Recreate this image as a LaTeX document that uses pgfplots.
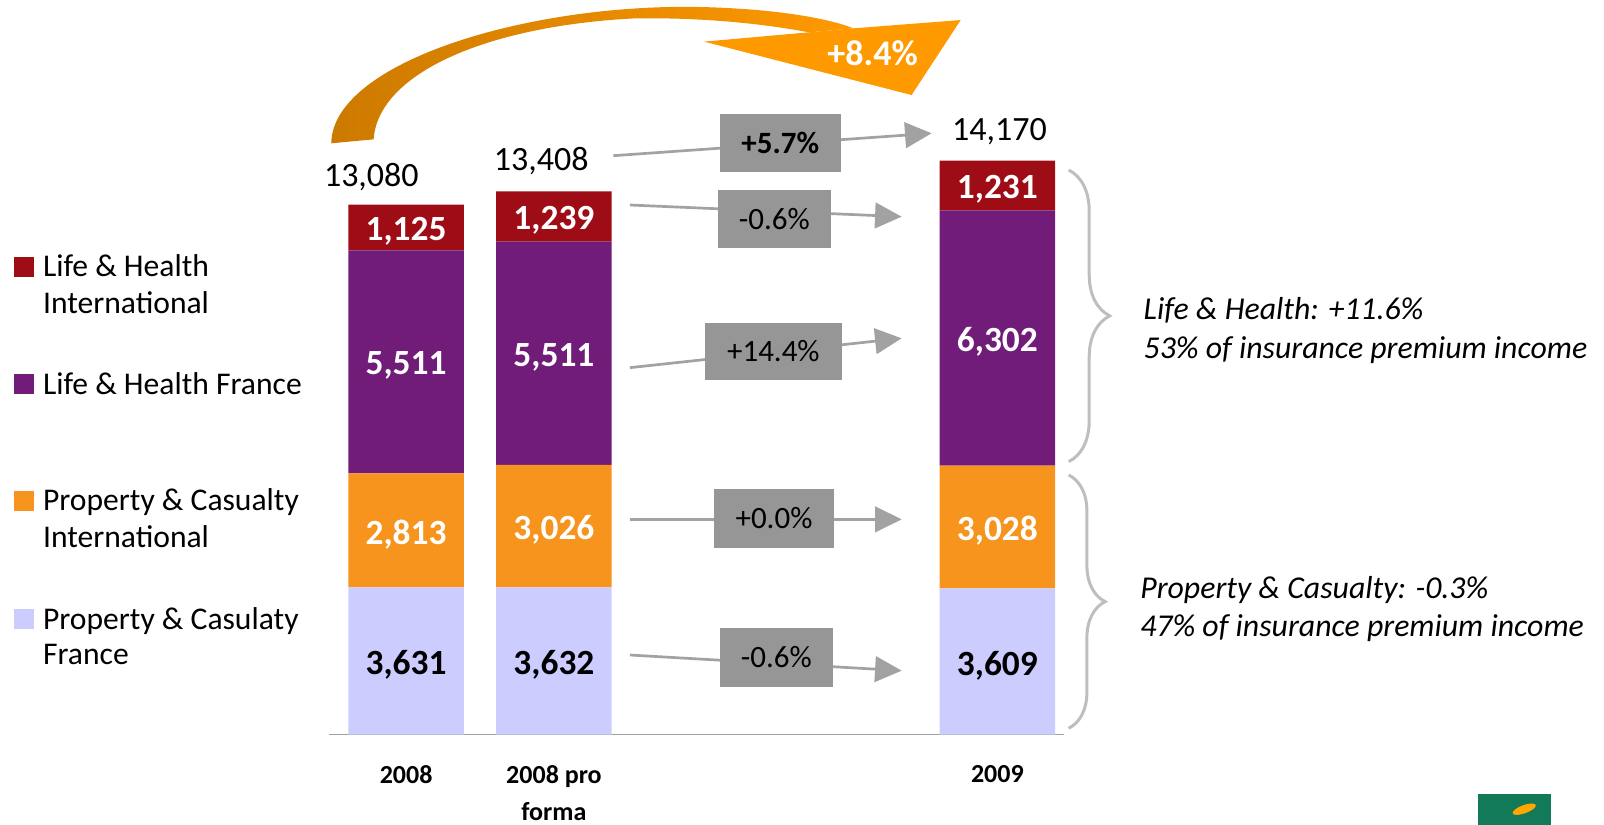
\documentclass[border=0pt]{standalone}
\usepackage{fontspec}
\setmainfont{Carlito}
\usepackage{pgfplots}
\pgfplotsset{compat=1.18}
\usetikzlibrary{arrows.meta,decorations.pathreplacing}

\definecolor{lhi}{RGB}{158,13,21}
\definecolor{lhf}{RGB}{112,28,120}
\definecolor{pci}{RGB}{247,148,29}
\definecolor{pcf}{RGB}{204,204,255}
\definecolor{boxgray}{RGB}{150,150,150}
\definecolor{arrgray}{RGB}{162,162,162}
\definecolor{bracegray}{RGB}{190,190,190}
\definecolor{orA}{RGB}{204,122,0}
\definecolor{orB}{RGB}{255,153,0}
\definecolor{logogreen}{RGB}{18,122,88}

\tikzset{
  barlbl/.style={font=\fontsize{17.7pt}{21pt}\selectfont\bfseries, yshift=-2pt},
  lg/.style={anchor=base west, inner sep=0pt, font=\fontsize{15.8pt}{18pt}\selectfont},
  rt/.style={anchor=base west, inner sep=0pt, font=\fontsize{15.9pt}{18pt}\selectfont\itshape},
  tot/.style={anchor=base, inner sep=0pt, font=\fontsize{17pt}{20pt}\selectfont},
  bx/.style={font=\fontsize{15.5pt}{18pt}\selectfont},
  garr/.style={draw=arrgray, line width=1.35pt, -{Triangle[length=13.3pt,width=12.8pt]}},
}

\begin{document}
\begin{tikzpicture}
\useasboundingbox (0pt,0pt) rectangle (802.03pt,-412.27pt);
\begin{axis}[
  at={(164.70pt,-367.26pt)}, anchor=south west,
  scale only axis, width=367.26pt, height=303.8pt,
  xmin=-0.519, xmax=4.45, ymin=0, ymax=15000,
  ybar stacked, bar width=57.8pt,
  axis x line*=bottom, axis y line=none,
  x axis line style={draw=arrgray, line width=0.8pt, -},
  xtick={0,1,4}, xticklabels={2008,2008 pro\\forma,2009},
  xtick style={draw=none}, major tick length=0pt,
  xticklabel style={font=\fontsize{13pt}{18.3pt}\selectfont\bfseries, align=center, anchor=north, inner sep=0pt, yshift=-15.5pt},
  clip=false,
]
\addplot[fill=pcf, draw=none] coordinates {(0,3631) (1,3632) (4,3609)};
\addplot[fill=pci, draw=none] coordinates {(0,2813) (1,3026) (4,3028)};
\addplot[fill=lhf, draw=none] coordinates {(0,5511) (1,5511) (4,6302)};
\addplot[fill=lhi, draw=none] coordinates {(0,1125) (1,1239) (4,1231)};

\coordinate (a1) at (axis cs:0,1815.5);
\coordinate (a2) at (axis cs:0,5037.5);
\coordinate (a3) at (axis cs:0,9199.5);
\coordinate (a4) at (axis cs:0,12517.5);
\coordinate (b1) at (axis cs:1,1816);
\coordinate (b2) at (axis cs:1,5145);
\coordinate (b3) at (axis cs:1,9413.5);
\coordinate (b4) at (axis cs:1,12788.5);
\coordinate (c1) at (axis cs:4,1804.5);
\coordinate (c2) at (axis cs:4,5123);
\coordinate (c3) at (axis cs:4,9788);
\coordinate (c4) at (axis cs:4,13554.5);
\end{axis}

\node[barlbl,text=black] at (a1) {3,631};
\node[barlbl,text=white] at (a2) {2,813};
\node[barlbl,text=white] at (a3) {5,511};
\node[barlbl,text=white] at (a4) {1,125};
\node[barlbl,text=black] at (b1) {3,632};
\node[barlbl,text=white] at (b2) {3,026};
\node[barlbl,text=white] at (b3) {5,511};
\node[barlbl,text=white] at (b4) {1,239};
\node[barlbl,text=black] at (c1) {3,609};
\node[barlbl,text=white] at (c2) {3,028};
\node[barlbl,text=white] at (c3) {6,302};
\node[barlbl,text=white] at (c4) {1,231};

\begin{scope}[x=0.5115pt,y=-0.5115pt]
% totals
\node[tot] at (363,182.5) {13,080};
\node[tot] at (529,166.2) {13,408};
\node[tot] at (977,137.5) {14,170};

% legend
\fill[lhi] (13.7,251) rectangle (33.2,270.8);
\node[lg] at (41.7,270.5) {Life \& Health};
\node[lg] at (41.7,306.9) {International};
\fill[lhf] (13.7,365.6) rectangle (33.2,385);
\node[lg] at (41.7,385.2) {Life \& Health France};
\fill[pci] (13.7,479.6) rectangle (33.2,499.2);
\node[lg] at (41.7,499.2) {Property \& Casualty};
\node[lg] at (41.7,535.3) {International};
\fill[pcf] (13.7,595.3) rectangle (33.2,614.9);
\node[lg] at (41.7,614.9) {Property \& Casulaty};
\node[lg] at (41.7,650) {France};

% gray arrows
\draw[garr] (599.5,152.2) -- (910.7,130.3);
\draw[garr] (615.8,200.4) -- (881.4,211.8);
\draw[garr] (615.8,359.4) -- (881.4,330.7);
\draw[garr] (615.8,507.7) -- (881.4,507.7);
\draw[garr] (615.8,640.3) -- (881.4,655.6);

% boxes
\fill[boxgray] (703.8,111.4) rectangle (821.8,167.8);
\node[bx,font=\fontsize{15.5pt}{18pt}\selectfont\bfseries] at (762.8,139.6) {+5.7\%};
\fill[boxgray] (701.9,185.7) rectangle (812,242.1);
\node[bx] at (757,213.9) {-0.6\%};
\fill[boxgray] (689.2,316) rectangle (822.8,371);
\node[bx] at (756,343.5) {+14.4\%};
\fill[boxgray] (697.9,478) rectangle (815.2,535.4);
\node[bx] at (756.6,506.7) {+0.0\%};
\fill[boxgray] (703.8,614.2) rectangle (814,671.2);
\node[bx] at (758.9,642.7) {-0.6\%};

% braces
\draw[bracegray, line width=1.5pt, decorate, decoration={brace, amplitude=20.5pt}] (1044.7,166.2) -- (1044.7,451.3);
\draw[bracegray, line width=1.5pt, decorate, decoration={brace, amplitude=18.2pt}] (1044.7,464.3) -- (1044.7,711.9);

% right texts
\node[rt] at (1117.6,312.8) {Life \& Health: +11.6\%};
\node[rt] at (1117.6,350.3) {53\% of insurance premium income};
\node[rt] at (1114.3,584.9) {Property \& Casualty: -0.3\%};
\node[rt] at (1114.3,622.4) {47\% of insurance premium income};

% big curved arrow
\shade[left color=orA, right color=orB] (323.8,140.1) .. controls (325,60) and (520,2) .. (690,7) .. controls (760,9) and (810,18) .. (834.4,27.7) -- (790.7,31.6) .. controls (740,22) and (680,17) .. (620,18) .. controls (480,25) and (370,70) .. (365.2,136.2) -- cycle;
\fill[orB] (790.7,31.6) -- (688.2,40.7) -- (891.1,92.9) -- (939.1,19.6) -- (834.4,27.7) -- cycle;
\node[font=\fontsize{18pt}{21pt}\selectfont\bfseries, text=white] at (853,52) {+8.4\%};

% logo
\fill[logogreen] (1445,776) rectangle (1516,806);
\fill[orange!70!yellow, rotate around={20:(1490,791)}] (1490,791) ellipse (12 and 4);
\end{scope}
\end{tikzpicture}
\end{document}
